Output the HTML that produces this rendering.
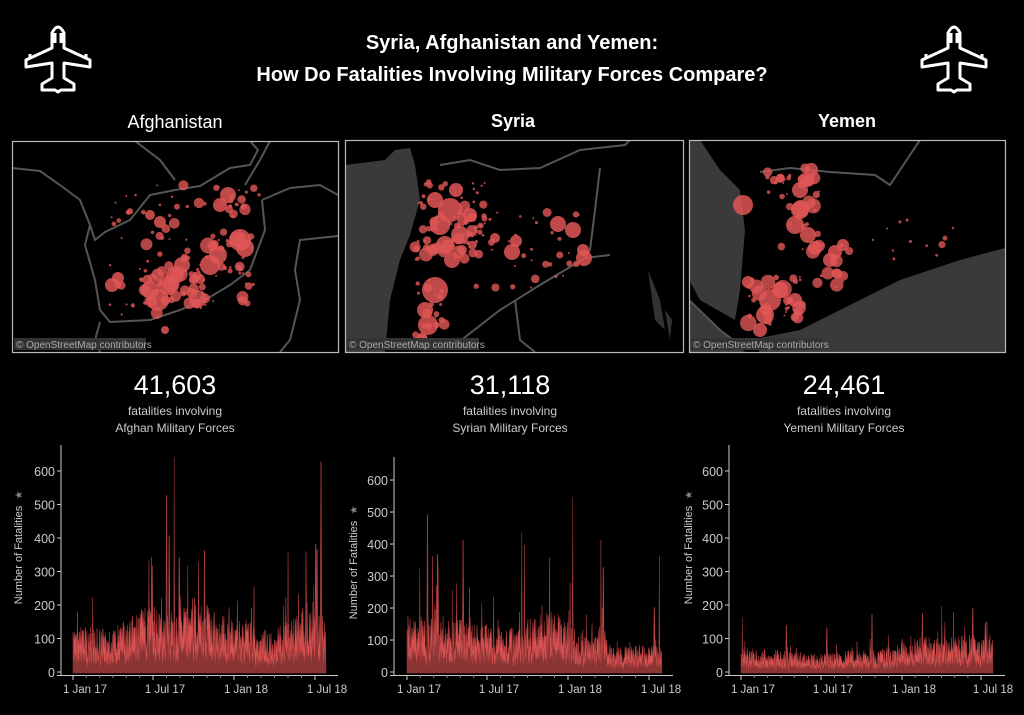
<!DOCTYPE html>
<html><head><meta charset="utf-8"><style>
html,body{margin:0;padding:0;background:#000;width:1024px;height:715px;overflow:hidden;font-family:"Liberation Sans",sans-serif;color:#fff}
svg{position:absolute;left:0;top:0}
</style></head><body>
<svg id="s" width="1024" height="715" viewBox="0 0 1024 715">
<defs>
<g id="plane"><path d="M28,10 Q34,-2 40,10 L40,25 L66,37 L66,44 L40,40 L40,55 L50,61 L50,67 L37,67 L34,69 L31,67 L18,67 L18,61 L28,55 L28,40 L2,44 L2,37 L28,25 Z M31,10 L31,20 M37,10 L37,20 M6,35 L6,31 M62,35 L62,31" fill="none" stroke="#fff" stroke-width="3" stroke-linejoin="round"/></g>
</defs>
<use href="#plane" x="24" y="23"/>
<use href="#plane" x="920" y="23"/>
<text x="512" y="49" text-anchor="middle" font-size="20" font-weight="bold" fill="#fff">Syria, Afghanistan and Yemen:</text>
<text x="512" y="81" text-anchor="middle" font-size="20" font-weight="bold" fill="#fff">How Do Fatalities Involving Military Forces Compare?</text>
<text x="175" y="128" text-anchor="middle" font-size="18" fill="#fff">Afghanistan</text>
<text x="513" y="127" text-anchor="middle" font-size="18" font-weight="bold" fill="#fff">Syria</text>
<text x="847" y="127" text-anchor="middle" font-size="18" font-weight="bold" fill="#fff">Yemen</text>
<g id="maps"></g>
<g font-size="27" fill="#fff" text-anchor="middle">
<text x="175" y="394">41,603</text><text x="510" y="394">31,118</text><text x="844" y="394">24,461</text></g>
<g font-size="12" fill="#ccc" text-anchor="middle">
<text x="175" y="415">fatalities involving</text><text x="175" y="432">Afghan Military Forces</text>
<text x="510" y="415">fatalities involving</text><text x="510" y="432">Syrian Military Forces</text>
<text x="844" y="415">fatalities involving</text><text x="844" y="432">Yemeni Military Forces</text></g>
<g id="charts"></g>
</svg>
<script>
var NS="http://www.w3.org/2000/svg";
function el(p,t,a){var e=document.createElementNS(NS,t);for(var k in a)e.setAttribute(k,a[k]);p.appendChild(e);return e}
var seed=7;function r(){seed=(seed*16807)%2147483647;return seed/2147483647}
var maps=document.getElementById('maps');
function box(x,y,w,h,id){var g=el(maps,'g',{});var cp=el(maps,'clipPath',{id:id});el(cp,'rect',{x:x,y:y,width:w,height:h});var inner=el(g,'g',{'clip-path':'url(#'+id+')'});el(inner,'rect',{x:x,y:y,width:w,height:h,fill:'#000'});return {g:g,inner:inner,x:x,y:y,w:w,h:h}}
function bubbles(gr,regions){regions.forEach(function(rg){for(var i=0;i<rg[4];i++){var cx=rg[0]+(r()-0.5)*rg[2],cy=rg[1]+(r()-0.5)*rg[3];var rad=rg[5]*Math.pow(r(),2.2)+1;el(gr,'circle',{cx:cx,cy:cy,r:rad,fill:'#e05656','fill-opacity':0.8})}})}
function big(gr,list){list.forEach(function(c){el(gr,'circle',{cx:c[0],cy:c[1],r:c[2],fill:'#e05656','fill-opacity':0.85})})}
function frame(b){el(b.g,'rect',{x:b.x+.5,y:b.y+.5,width:b.w,height:b.h,fill:'none',stroke:'#bbb','stroke-width':1.2});
el(b.g,'rect',{x:b.x+2,y:b.y+b.h-14,width:132,height:12,fill:'#333'});
var t=el(b.g,'text',{x:b.x+4,y:b.y+b.h-4,'font-size':10,fill:'#aaa'});t.textContent='© OpenStreetMap contributors'}
var ln={fill:'none',stroke:'#555','stroke-width':2};
// Afghanistan
var a=box(12,141,326,211,'ca');
el(a.inner,'path',Object.assign({d:'M12,168 L40,171 L60,185 L80,200 L90,225 L95,240 L105,232 L130,220 L150,195 L175,190 L200,186 L230,168 L250,165 L258,150 L250,141 M245,185 L260,160 L270,141 M262,200 L290,188 L320,185 L338,195 M262,200 L265,230 L250,270 L230,285 L205,300 L180,310 L150,320 L110,322 L100,310 L95,280 L85,245 L90,225 M338,236 L300,240 L295,270 L300,300 L290,340 L280,352 M100,322 L95,340 L100,352 M135,141 L160,160 L175,180'},ln));
big(a.inner,[[158,300,11],[150,290,9],[168,285,10],[175,275,9],[182,265,8],[210,265,10],[218,255,9],[240,240,11],[245,248,9],[228,195,8],[220,205,7],[160,222,6],[150,215,5],[112,285,7],[118,278,6],[165,330,4]]);
bubbles(a.inner,[[185,250,150,130,90,5],[175,285,60,40,25,8],[225,255,40,40,15,8],[230,200,30,30,10,6]]);
frame(a);
// Syria
var s=box(345,140,338,212,'cs');
el(s.inner,'path',{d:'M345,165 L385,160 L395,150 L410,148 L415,165 L420,200 L410,235 L400,260 L390,300 L385,352 L345,352 Z',fill:'#3a3a3a'});
el(s.inner,'path',{d:'M648,270 L660,300 L665,330 L655,320 Z M665,310 L672,320 L670,340 Z',fill:'#333'});
el(s.inner,'path',Object.assign({d:'M440,165 L470,160 L500,170 L540,168 L580,150 L625,145 L630,140 M600,168 L595,210 L590,250 L585,258 L540,285 L500,310 L455,345 M585,258 L610,255 M515,300 L520,340 L535,352'},ln));
big(s.inner,[[456,190,7],[450,210,12],[440,225,10],[460,235,9],[445,245,9],[452,260,8],[435,200,8],[470,215,7],[435,290,13],[425,310,8],[428,325,10],[422,340,6],[558,224,8],[573,230,8],[583,250,6],[584,258,8],[512,252,8],[516,241,6],[495,238,5],[462,250,5]]);
bubbles(s.inner,[[450,220,70,80,90,6],[430,310,30,60,20,5],[530,250,110,80,40,4]]);
frame(s);
// Yemen
var y=box(689,140,316,212,'cy');
el(y.inner,'path',{d:'M689,140 L700,140 L720,170 L740,190 L745,230 L740,290 L735,320 L700,300 L689,280 Z M689,300 L720,330 L745,352 L689,352 Z M750,340 L800,330 L860,300 L900,280 L960,260 L1005,248 L1005,352 L760,352 Z',fill:'#3a3a3a'});
el(y.inner,'path',Object.assign({d:'M760,172 L790,168 L830,172 L875,175 L890,185 L900,170 L920,140 M689,300 L720,330 L740,345'},ln));
big(y.inner,[[743,205,10],[800,190,8],[805,180,7],[800,210,9],[795,225,9],[808,235,8],[815,248,7],[830,260,7],[835,252,7],[843,245,6],[770,300,11],[765,315,9],[780,290,8],[795,300,7],[760,330,7],[748,282,6]]);
bubbles(y.inner,[[800,215,40,80,30,8],[775,300,55,50,35,9],[835,265,40,45,15,6],[790,180,60,30,15,6],[900,240,110,40,12,3]]);
frame(y);
// Charts
var charts=document.getElementById('charts');
function chart(o){
  var g=el(charts,'g',{});
  var x0=o.ax,base=675,sc=o.sc,top=o.top;
  el(g,'line',{x1:x0,y1:top,x2:x0,y2:base+0.5,stroke:'#ccc','stroke-width':1});
  el(g,'line',{x1:x0-4,y1:base+0.5,x2:o.xend,y2:base+0.5,stroke:'#ccc','stroke-width':1});
  for(var v=0;v<=600;v+=100){var yy=base-3-v*sc;
    el(g,'line',{x1:x0-4,y1:yy,x2:x0,y2:yy,stroke:'#ccc'});
    var t=el(g,'text',{x:x0-6,y:yy+5,'font-size':12.5,fill:'#ccc','text-anchor':'end'});t.textContent=v}
  var labs=['1 Jan 17','1 Jul 17','1 Jan 18','1 Jul 18'];
  o.ticks.forEach(function(tx,i){el(g,'line',{x1:tx,y1:base,x2:tx,y2:base+5,stroke:'#ccc'});
    var t=el(g,'text',{x:tx+12,y:base+18,'font-size':11.5,fill:'#ccc','text-anchor':'middle'});t.textContent=labs[i]});
  for(var k=0;k<o.ticks.length-1;k++)for(var m=1;m<6;m++){var tx=o.ticks[k]+(o.ticks[k+1]-o.ticks[k])*m/6;el(g,'line',{x1:tx,y1:base,x2:tx,y2:base+3,stroke:'#888'})}
  var lt=el(g,'text',{transform:'translate('+o.lx+','+o.ly+') rotate(-90)','font-size':11,fill:'#ccc','text-anchor':'middle'});lt.textContent='Number of Fatalities';
  var star=el(g,'text',{transform:'translate('+(o.lx)+','+(o.ly-60)+') rotate(-90)','font-size':10,fill:'#888','text-anchor':'middle'});star.textContent='★';
  var x1=o.ticks[0],x2=o.dend,N=580,dx=(x2-x1)/N;
  var d1='M'+x1+','+(base-2),d2=d1;
  for(var i=0;i<N;i++){var f=i/N;var b=o.prof(f);var v=b*(0.4+r()*0.9);if(r()<0.06)v*=1.8;
    o.sp.forEach(function(s){if(Math.abs(s[0]-f)<0.8/N)v=s[1]});
    var xx=x1+i*dx;var yy=base-2-v*sc;d1+=' L'+xx.toFixed(2)+','+yy.toFixed(1);
    d2+=' L'+xx.toFixed(2)+','+(base-2-v*sc*(0.3+r()*0.35)).toFixed(1)}
  d1+=' L'+x2+','+(base-2)+' Z';d2+=' L'+x2+','+(base-2)+' Z';
  el(g,'path',{d:d1,fill:'#d65050',stroke:'#a83c3c','stroke-width':0.5});
  el(g,'path',{d:d2,fill:'#8a3434'});
}
function pw(pts){return function(f){for(var i=0;i<pts.length-1;i++){if(f<=pts[i+1][0]){var t=(f-pts[i][0])/(pts[i+1][0]-pts[i][0]);return pts[i][1]+(pts[i+1][1]-pts[i][1])*t}}return pts[pts.length-1][1]}}
chart({ax:61,top:445,sc:0.335,xend:338,ticks:[73,153,234,315],dend:326,lx:22,ly:555,
 prof:pw([[0,110],[0.15,100],[0.3,160],[0.4,140],[0.48,180],[0.6,130],[0.7,120],[0.8,90],[0.9,150],[1,180]]),
 sp:[[0.37,530],[0.38,410],[0.4,643],[0.42,345],[0.52,365],[0.85,360],[0.96,385],[0.98,630],[0.965,370]]});
chart({ax:394,top:457,sc:0.32,xend:673,ticks:[407,487,568,649],dend:662,lx:357,ly:570,
 prof:pw([[0,140],[0.2,130],[0.4,110],[0.55,160],[0.65,120],[0.7,90],[0.77,120],[0.79,60],[1,70]]),
 sp:[[0.05,330],[0.08,495],[0.1,365],[0.12,370],[0.22,415],[0.45,440],[0.46,400],[0.65,550],[0.76,415],[0.77,330],[0.99,365],[0.97,205]]});
chart({ax:729,top:445,sc:0.335,xend:1005,ticks:[741,821,902,981],dend:993,lx:692,ly:555,
 prof:pw([[0,60],[0.3,45],[0.5,55],[0.6,60],[0.65,85],[1,90]]),
 sp:[[0.005,165],[0.18,143],[0.34,135],[0.52,175],[0.72,178],[0.92,195],[0.97,150]]});
</script>
</body></html>
